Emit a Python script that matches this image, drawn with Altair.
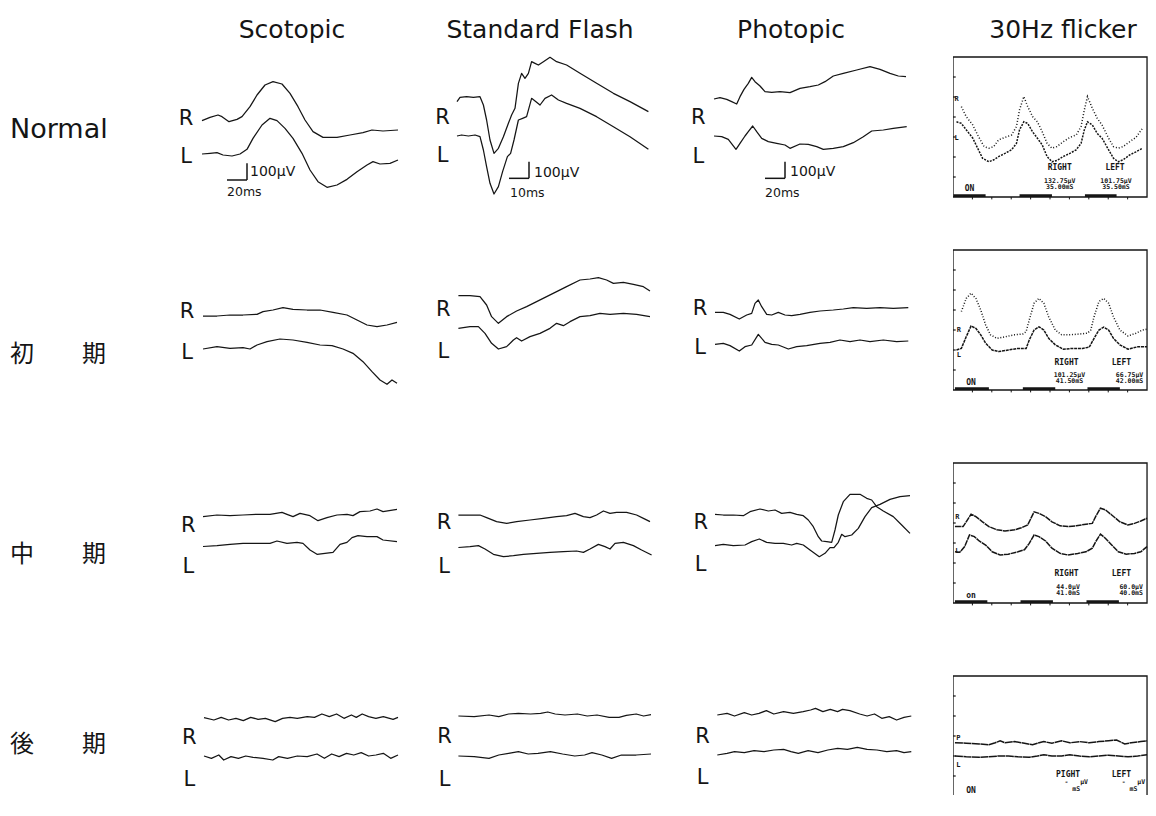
import altair as alt
import pandas as pd

# ---------------- texts ----------------
COL_NAMES = ["Scotopic", "Standard Flash", "Photopic", "30Hz flicker"]
ROW_NAMES = ["Normal", "初　　期", "中　　期", "後　　期"]

# ---------------- ERG sweeps: time (ms) and amplitude (µV, relative to sweep start) ----------------
# Normal
N_SCO_R_T = [0, 8, 16, 20, 27, 35, 40, 48, 55, 63, 71, 80, 88, 96, 103, 111, 121, 135, 148, 161, 170, 181, 196]
N_SCO_R_V = [0, 20, 34, 24, -6, 8, 24, 84, 154, 214, 234, 220, 164, 84, 4, -66, -100, -100, -86, -72, -56, -62, -56]
N_SCO_L_T = [0, 8, 15, 21, 30, 38, 45, 51, 60, 68, 75, 83, 91, 100, 108, 116, 125, 135, 145, 155, 165, 171, 178, 188, 196]
N_SCO_L_V = [0, 4, 8, -6, -12, 0, 28, 94, 174, 214, 200, 154, 94, 4, -96, -166, -200, -186, -152, -106, -66, -46, -60, -56, -36]
N_STD_R_T = [0, 1.5, 4.8, 8.2, 11.5, 13.2, 14.8, 16.5, 18.5, 20.7, 23.2, 25.7, 27.3, 29, 30.7, 32.3, 34, 35.7, 37.3, 39, 40.7, 43.2, 46.5, 49.8, 54.8, 61.5, 69.8, 78.2, 86.5, 95.7]
N_STD_R_V = [-28, -2, 2, -2, 2, -48, -138, -258, -338, -308, -238, -158, -108, -68, 82, 142, 112, 142, 212, 202, 192, 212, 238, 212, 192, 142, 82, 22, -28, -88]
N_STD_L_T = [0, 2.3, 5.7, 9, 11.5, 13.2, 14.8, 16.5, 18.5, 20.7, 22.8, 25.2, 26.8, 28.5, 30.7, 32.8, 34.8, 37.3, 39.5, 41.5, 44, 47.3, 50.7, 54.8, 61.5, 69.8, 78.2, 86.5, 95.7]
N_STD_L_V = [-3, 3, -3, 3, -7, -87, -187, -287, -351, -307, -217, -127, -107, -27, 93, 103, 113, 223, 203, 183, 223, 243, 213, 193, 163, 113, 53, -7, -83]
N_PHO_R_T = [0, 6, 12.7, 17.7, 22.7, 26, 30, 34.3, 37.7, 41, 46, 51, 57.7, 66, 76, 86, 96, 104.3, 111, 119.3, 129.3, 142.7, 156, 166, 176, 184.3, 192]
N_PHO_R_V = [0, 8, -2, -16, -30, 14, 58, 94, 130, 104, 78, 44, 40, 44, 38, 64, 74, 84, 104, 138, 154, 174, 194, 178, 154, 138, 134]
N_PHO_L_T = [0, 7.7, 14.3, 22, 26, 31, 34.3, 38.7, 42.7, 47.7, 54.3, 62.7, 71, 76, 86, 94.3, 102.7, 109.3, 119.3, 129.3, 139.3, 149.3, 157.7, 169.3, 179.3, 192.7]
N_PHO_L_V = [0, -4, -20, -80, -44, 0, 26, 60, 26, -14, -34, -44, -54, -74, -48, -50, -64, -80, -74, -64, -40, -4, 30, 36, 46, 56]

# 初期 (early)
E_SCO_R_T = [1, 15, 28, 41, 55, 61, 71, 81, 91, 105, 118, 131, 145, 155, 165, 175, 185, 195]
E_SCO_R_V = [0, 0, 6, 6, 10, 26, 36, 50, 40, 36, 36, 22, 6, -24, -54, -64, -54, -38]
E_SCO_L_T = [1, 15, 28, 41, 48, 55, 65, 78, 91, 105, 118, 130, 141, 151, 161, 170, 178, 185, 190, 195]
E_SCO_L_V = [0, 14, 4, 8, 0, 24, 44, 60, 54, 40, 24, 20, 0, -26, -76, -136, -186, -212, -186, -206]
E_STD_R_T = [0.7, 6.5, 11.5, 14.8, 17.3, 20.7, 24.8, 29.8, 34.8, 39.8, 44.8, 49.8, 54.8, 61.5, 66.5, 70.7, 74.8, 78.2, 83.2, 88.2, 93.2, 96.5]
E_STD_R_V = [0, 0, -6, -56, -126, -166, -126, -92, -66, -36, -6, 24, 54, 94, 100, 108, 94, 74, 80, 68, 54, 28]
E_STD_L_T = [0.7, 6.5, 10.7, 14, 17.3, 20.7, 24.8, 28.2, 29.8, 32.3, 36.5, 41.5, 46.5, 49.8, 53.2, 56.5, 61.5, 66.5, 71.5, 76.5, 83.2, 89.8, 96.5]
E_STD_L_V = [-5, 5, 5, -35, -95, -129, -115, -75, -61, -81, -55, -35, -5, 25, 11, 35, 65, 71, 85, 79, 85, 79, 65]
E_PHO_R_T = [1, 9.3, 16, 25.3, 32.7, 37.7, 41, 44.3, 47.7, 52.7, 57.7, 64.3, 71, 77.7, 86, 96, 106, 119.3, 129.3, 139.3, 152.7, 166, 179.3, 194.3]
E_PHO_R_V = [0, 0, -12, -40, -16, -6, 54, 74, 34, -12, -16, 0, -16, -20, -12, 0, 8, 14, 20, 28, 24, 28, 24, 28]
E_PHO_L_T = [1, 9.3, 16, 25.3, 31, 37.7, 44.3, 51, 57.7, 64.3, 74.3, 82.7, 92.7, 106, 116, 126, 136, 146, 156, 169.3, 182.7, 194.3]
E_PHO_L_V = [0, 6, -8, -40, -14, -4, 60, 12, 0, -4, -28, -14, -8, 6, 12, 26, 16, 26, 16, 26, 16, 20]

# 中期 (middle)
M_SCO_R_T = [1, 15, 28, 41, 55, 68, 80, 85, 91, 98, 108, 116, 125, 135, 145, 151, 158, 168, 175, 181, 195]
M_SCO_R_V = [-4, 6, 2, 6, 10, 10, 22, 10, -4, 16, 2, -28, -10, 6, 10, 2, 26, 30, 42, 26, 40]
M_SCO_L_T = [1, 15, 28, 41, 55, 68, 75, 85, 95, 101, 108, 115, 123, 131, 138, 145, 150, 156, 165, 175, 181, 195]
M_SCO_L_V = [0, 5, 13, 19, 19, 19, 33, 19, 25, 19, -21, -47, -41, -35, 13, 25, 53, 65, 59, 59, 39, 29]
M_STD_R_T = [0.7, 6.5, 11.5, 14.8, 19.8, 24.8, 29.8, 36.5, 43.2, 49.8, 54.8, 59, 63.2, 66.5, 69.8, 73.2, 76.5, 79.8, 84.8, 89.8, 93.2, 96.5]
M_STD_R_V = [0, 0, 0, -16, -40, -50, -40, -30, -20, -10, -4, 10, -10, -16, 0, 24, 10, 16, 16, 0, -20, -40]
M_STD_L_T = [0.7, 6.5, 10.7, 14, 18.2, 23.2, 28.2, 33.2, 39.8, 46.5, 53.2, 59.8, 63.2, 66.5, 70.7, 74, 76.5, 79, 83.2, 88.2, 92.3, 97.3]
M_STD_L_V = [0, 5, 11, -9, -41, -55, -49, -41, -35, -29, -25, -21, -29, -9, 19, 5, -9, 25, 31, 11, -15, -45]
M_PHO_R_T = [1, 9.3, 19.3, 29.3, 36, 46, 54.3, 61, 67.7, 76, 82.7, 89.3, 94.3, 99.3, 104.3, 107.7, 112.7, 117.7, 121, 124.3, 129.3, 136, 146, 152.7, 157.7, 162.7, 169.3, 179.3, 187.7, 196]
M_PHO_R_V = [1, -3, -3, -7, 17, 33, 21, 27, 7, 13, 1, -7, -33, -73, -133, -159, -163, -167, -93, -3, 77, 121, 121, 97, 87, 47, 21, -13, -63, -113]
M_PHO_L_T = [1, 9.3, 19.3, 31, 37.7, 45.3, 52.7, 61, 69.3, 77.7, 82.7, 89.3, 96, 105.3, 111, 116, 120, 124.3, 127.7, 131, 137.7, 144.3, 151, 157.7, 166, 176, 186, 196]
M_PHO_L_V = [-4, 4, -4, 0, 20, 36, 16, 10, 10, 0, 10, 0, -30, -70, -50, -16, -16, 16, 64, 50, 60, 100, 170, 224, 244, 274, 290, 296]

# 後期 (late)
L_SCO_R_T = [2, 11.9, 19.2, 26.6, 34, 41.3, 48.7, 56.1, 63.4, 73.2, 80.6, 88, 95.3, 105.2, 112.5, 119.9, 127.3, 134.6, 142, 149.4, 154.3, 160.2, 166.6, 173.9, 181.3, 191.1, 196]
L_SCO_R_V = [2, -12, 4, -12, -2, -16, 4, -8, -2, -22, -2, 4, -2, 8, 4, 24, 8, 24, -2, 18, 4, 24, 8, -2, 8, -8, 4]
L_SCO_L_T = [2, 9.4, 16.8, 21.7, 29, 36.4, 43.8, 51.1, 61, 70.8, 76.7, 85.5, 95.3, 105.2, 115, 122.4, 129.7, 137.1, 144.5, 151.8, 159.2, 166.6, 173.9, 181.3, 188.7, 196]
L_SCO_L_V = [4, -10, 10, -20, 0, -10, 4, -4, -10, -20, 0, -10, 4, 0, 16, -10, 16, 0, 20, 10, 24, 4, 10, 20, -10, 10]
L_STD_R_T = [0.7, 8.6, 16, 20.9, 25.8, 30.7, 36.8, 41.8, 45.4, 49.1, 54, 60.2, 65.1, 70, 76.1, 81, 84.7, 89.6, 93.3, 97]
L_STD_R_V = [0, -4, 6, -4, 12, 16, 12, 16, 24, 12, 6, 12, 0, 6, -8, -8, 4, 12, 0, 8]
L_STD_L_T = [0.7, 8.6, 16, 20.9, 25.8, 30.7, 35.6, 40.5, 46.7, 52.8, 58.9, 63.8, 67.5, 72.4, 77.3, 82.2, 89.6, 97]
L_STD_L_V = [0, -4, -14, 6, 16, 26, 12, 16, 26, 12, 0, 6, 20, 6, -14, 6, 6, 12]
L_PHO_R_T = [3.3, 13.1, 20.5, 30.3, 37.7, 45, 52.4, 59.8, 69.6, 79.4, 89.2, 96.6, 101.5, 108.9, 116.3, 123.6, 128.5, 135.9, 145.7, 153.1, 160.5, 167.8, 175.2, 182.6, 190, 197.3]
L_PHO_R_V = [0, 10, -6, 14, 0, 10, 26, 6, 20, 10, 20, 30, 40, 20, 34, 20, 34, 26, 6, -6, 6, -20, -10, -30, -14, -6]
L_PHO_L_T = [3.3, 13.1, 20.5, 30.3, 40.1, 50, 59.8, 69.6, 77, 84.3, 94.1, 104, 113.8, 123.6, 133.4, 143.3, 153.1, 162.9, 172.8, 182.6, 190, 197.3]
L_PHO_L_V = [-6, 4, 14, 8, 20, 14, 24, 28, 14, 4, 20, 8, 24, 34, 28, 40, 28, 24, 14, 20, 8, 14]

# ---------------- 30Hz flicker sweeps: time (ms) and amplitude (µV within the 0-350 µV frame) ----------------
F1_R_T = [4.3, 6.8, 10.2, 12.7, 16, 18.5, 21, 23.5, 26.8, 30.2, 32.7, 34.3, 36.5, 38.5, 41, 43.5, 46, 48.5, 51, 53.5, 56.8, 60.2, 63.5, 66, 67.7, 69.3, 71.8, 74.3, 76.8, 80.2, 82.7, 85.2, 87.7, 91, 94.3, 97.7]
F1_R_V = [226, 201, 180, 155, 126, 122, 126, 143, 149, 155, 176, 218, 251, 226, 201, 188, 163, 134, 122, 126, 138, 149, 155, 176, 218, 251, 222, 197, 180, 147, 126, 122, 126, 138, 149, 172]
F1_L_T = [1.8, 4.3, 6.8, 10.2, 12.7, 15.2, 18.5, 21, 23.5, 26.8, 30.2, 32.7, 34.3, 36.5, 38.5, 41, 43.5, 46, 48.5, 51, 53.5, 56.8, 60.2, 63.5, 66, 67.7, 69.3, 71.8, 74.3, 76.8, 80.2, 82.7, 85.2, 87.7, 91, 94.3, 97.7]
F1_L_V = [188, 184, 168, 147, 122, 97, 88, 93, 101, 109, 118, 134, 168, 188, 184, 163, 147, 130, 101, 88, 91, 101, 109, 118, 134, 168, 188, 180, 159, 147, 118, 97, 88, 93, 105, 113, 122]
F2_R_T = [4.3, 6.8, 9.3, 11.8, 14.3, 16.8, 19.3, 22.7, 26.8, 31.8, 36, 37.7, 39.3, 41.8, 44.3, 46.8, 49.3, 52.7, 56, 60.2, 65.2, 69.3, 71, 72.7, 75.2, 77.7, 80.2, 82.7, 86, 90.2, 94.3, 97.7, 100]
F2_R_V = [196, 229, 242, 229, 200, 163, 138, 129, 133, 138, 140, 146, 175, 217, 229, 217, 183, 150, 138, 138, 140, 142, 150, 183, 221, 229, 217, 183, 150, 135, 142, 150, 152]
F2_L_T = [1.8, 4.3, 6.8, 9.3, 11.8, 14.3, 16.8, 20.2, 23.5, 28.5, 33.5, 37.7, 39.3, 41.8, 44.3, 46.8, 49.3, 52.7, 56.8, 61.8, 66.8, 70.2, 72.7, 75.2, 77.7, 80.2, 82.7, 86, 90.2, 95.2, 100]
F2_L_V = [100, 104, 133, 160, 154, 138, 117, 100, 96, 100, 104, 104, 125, 150, 158, 150, 129, 113, 102, 104, 104, 107, 129, 150, 157, 150, 129, 113, 102, 108, 108]
F3_R_T = [1, 5.2, 6.8, 9.3, 11.8, 15.2, 18.5, 22.7, 26.8, 31.8, 35.2, 38.5, 40.2, 41.8, 44.3, 47.7, 51, 55.2, 59.3, 63.5, 68.5, 71.8, 73.5, 76, 78.5, 81.8, 86, 90.2, 93.5, 96.8, 100]
F3_R_V = [191, 191, 203, 222, 216, 203, 191, 183, 180, 183, 188, 195, 212, 228, 224, 216, 203, 193, 191, 193, 197, 199, 216, 237, 233, 220, 203, 195, 199, 205, 212]
F3_L_T = [1, 3.5, 6, 8.5, 11, 13.5, 16.8, 20.2, 24.3, 28.5, 33.5, 36.8, 39.3, 41.8, 44.3, 47.7, 51, 55.2, 59.3, 64.3, 68.5, 71.8, 73.5, 76, 78.5, 81.8, 85.2, 89.3, 93.5, 96.8, 100]
F3_L_V = [128, 127, 141, 170, 166, 155, 145, 128, 120, 122, 128, 133, 149, 170, 166, 155, 137, 124, 120, 124, 128, 137, 153, 172, 162, 145, 128, 122, 124, 128, 141]
F4_R_T = [1, 6.8, 13.5, 18.5, 21.8, 24.3, 26.8, 31.8, 36.8, 41, 43.5, 46.8, 51, 56, 60.2, 65.2, 70.2, 75.2, 80.2, 84.3, 88.5, 91.8, 96.8, 100]
F4_R_V = [183, 182, 180, 178, 183, 188, 183, 186, 182, 178, 182, 186, 182, 188, 183, 186, 183, 186, 188, 190, 180, 183, 186, 188]
F4_L_T = [1, 6.8, 13.5, 18.5, 23.5, 28.5, 33.5, 39.3, 43.5, 46.8, 51, 56, 60.2, 65.2, 70.2, 75.2, 80.2, 85.2, 90.2, 95.2, 100]
F4_L_V = [150, 148, 147, 148, 150, 150, 148, 147, 150, 153, 150, 150, 153, 150, 148, 150, 152, 150, 148, 150, 153]

# stimulus "ON" periods (ms) shown under each flicker record
F_STIM = [
    [(0.2, 16.8), (34.3, 51), (68, 84.3)],
    [(1, 18.5), (36, 52.7), (69.3, 86)],
    [(1, 17.7), (34.8, 51.5), (68.8, 85.5)],
    [(1, 18), (35, 52), (69, 86)],
]
# instrument read-outs printed inside each flicker record: (text, kind, t, v)
NB = "\u00a0"
F_TEXT = [
    [("R", "eye", 1.8, 244), ("L", "eye", 1.8, 147), ("RIGHT", "head", 55, 72), ("LEFT", "head", 83.5, 72),
     ("132.75µV", "num", 55, 41), ("35.00mS", "num", 55, 25), ("101.75µV", "num", 84, 41), ("35.50mS", "num", 84, 25),
     ("ON", "on", 8.5, 19)],
    [("R", "eye", 3, 150), ("L", "eye", 3, 88), ("RIGHT", "head", 58.5, 68), ("LEFT", "head", 86.8, 68),
     ("101.25µV", "num", 60, 38), ("41.50mS", "num", 60, 22), ("66.75µV", "num", 91, 38), ("42.00mS", "num", 91, 22),
     ("ON", "on", 9.3, 17)],
    [("R", "eye", 2.2, 216), ("L", "eye", 2.2, 130), ("RIGHT", "head", 58.5, 72), ("LEFT", "head", 86.8, 72),
     ("44.0µV", "num", 59.3, 40), ("41.0mS", "num", 59.3, 24), ("60.0µV", "num", 91.8, 40), ("40.0mS", "num", 91.8, 24),
     ("on", "on", 9.3, 18)],
    [("P", "eye", 2.7, 194), ("L", "eye", 2.7, 128), ("PIGHT", "head", 59.3, 102), ("LEFT", "head", 86.8, 102),
     ("-" + NB * 3 + "µV", "num", 63.5, 85), (NB * 4 + "mS", "num", 63.5, 67),
     ("-" + NB * 3 + "µV", "num", 93, 85), (NB * 4 + "mS", "num", 93, 67), ("ON", "on", 9.3, 62)],
]
F_YTICKS = [50, 100, 150, 200, 250, 300]
F_XTICKS = [10, 20, 30, 40, 50, 60, 70, 80, 90]
F_FRAME = {"t0": 0, "t1": 100, "v0": 0, "v1": 350}

TRACES = {
    (0, 0): {"R": (N_SCO_R_T, N_SCO_R_V), "L": (N_SCO_L_T, N_SCO_L_V)},
    (0, 1): {"R": (N_STD_R_T, N_STD_R_V), "L": (N_STD_L_T, N_STD_L_V)},
    (0, 2): {"R": (N_PHO_R_T, N_PHO_R_V), "L": (N_PHO_L_T, N_PHO_L_V)},
    (1, 0): {"R": (E_SCO_R_T, E_SCO_R_V), "L": (E_SCO_L_T, E_SCO_L_V)},
    (1, 1): {"R": (E_STD_R_T, E_STD_R_V), "L": (E_STD_L_T, E_STD_L_V)},
    (1, 2): {"R": (E_PHO_R_T, E_PHO_R_V), "L": (E_PHO_L_T, E_PHO_L_V)},
    (2, 0): {"R": (M_SCO_R_T, M_SCO_R_V), "L": (M_SCO_L_T, M_SCO_L_V)},
    (2, 1): {"R": (M_STD_R_T, M_STD_R_V), "L": (M_STD_L_T, M_STD_L_V)},
    (2, 2): {"R": (M_PHO_R_T, M_PHO_R_V), "L": (M_PHO_L_T, M_PHO_L_V)},
    (3, 0): {"R": (L_SCO_R_T, L_SCO_R_V), "L": (L_SCO_L_T, L_SCO_L_V)},
    (3, 1): {"R": (L_STD_R_T, L_STD_R_V), "L": (L_STD_L_T, L_STD_L_V)},
    (3, 2): {"R": (L_PHO_R_T, L_PHO_R_V), "L": (L_PHO_L_T, L_PHO_L_V)},
}
FLICKER = [
    {"R": (F1_R_T, F1_R_V), "L": (F1_L_T, F1_L_V)},
    {"R": (F2_R_T, F2_R_V), "L": (F2_L_T, F2_L_V)},
    {"R": (F3_R_T, F3_R_V), "L": (F3_L_T, F3_L_V)},
    {"R": (F4_R_T, F4_R_V), "L": (F4_L_T, F4_L_V)},
]

# ---------------- layout ----------------
INK = "#151515"
FONT = "DejaVu Sans"
JFONT = "Noto Sans CJK JP"
MONO = "DejaVu Sans Mono"
HEADER_H = 42
ROW_H = [190, 212, 213, 130]
COL_W = [162, 255, 255, 273, 195]
UV_PER_PX = 6            # trace panels
F_UV_PER_PX = 2.5        # flicker panels
X_DOMAIN = [[-32, 223], [-16, 111.5], [-34, 239]]
F_X_DOMAIN = [0, 100.5]
F_Y_LOW = [-107.5, -155, -155, 52.5]
HEADER_X = [122, 115, 111, 110]
ROW_LABEL_Y = [80, 115, 103, 80]
# vertical display offsets (µV) that stack R above L in each panel
OFFSETS = {
    (0, 0): {"R": 716, "L": 516}, (0, 1): {"R": 858, "L": 627}, (0, 2): {"R": 846, "L": 624},
    (1, 0): {"R": 816, "L": 618}, (1, 1): {"R": 938, "L": 747}, (1, 2): {"R": 838, "L": 646},
    (2, 0): {"R": 894, "L": 711}, (2, 1): {"R": 900, "L": 705}, (2, 2): {"R": 903, "L": 720},
    (3, 0): {"R": 462, "L": 230}, (3, 1): {"R": 474, "L": 234}, (3, 2): {"R": 480, "L": 246},
}
EYE_POS = {
    (0, 0): {"R": (-16, 726), "L": (-16, 498)}, (0, 1): {"R": (-7.2, 730), "L": (-7.2, 504)},
    (0, 2): {"R": (-15.7, 730), "L": (-15.7, 500)},
    (1, 0): {"R": (-15, 842), "L": (-15, 592)}, (1, 1): {"R": (-6.8, 852), "L": (-6.8, 602)},
    (1, 2): {"R": (-14, 858), "L": (-14, 622)},
    (2, 0): {"R": (-13.7, 836), "L": (-13.7, 590)}, (2, 1): {"R": (-6.5, 850), "L": (-6.5, 590)},
    (2, 2): {"R": (-13.3, 850), "L": (-13.3, 600)},
    (3, 0): {"R": (-12.7, 340), "L": (-12.7, 90)}, (3, 1): {"R": (-6.2, 350), "L": (-6.2, 90)},
    (3, 2): {"R": (-11.4, 350), "L": (-11.4, 100)},
}
# calibration bars in the Normal row: 100 µV and 20/10/20 ms
CAL_UV = 100
CAL_MS = [20, 10, 20]
CAL_CORNER = [(45, 360), (36, 370), (71, 370)]
CAL_UV_TEXT = [(48, 408), (38.5, 405), (76, 410)]
CAL_MS_TEXT = [(25, 288), (26.5, 280), (51, 280)]
F_DASH = [([1, 2], [2, 1.2]), ([1, 1.8], [3, 0.8]), ([6, 0.6], [6, 0.6]), ([8, 0.5], [8, 0.5])]


def sweep_df(series, offsets=None):
    rows = []
    for eye, (T, V) in series.items():
        off = offsets[eye] if offsets else 0
        for i, (t, v) in enumerate(zip(T, V)):
            rows.append({"eye": eye, "i": i, "t": t, "v": v + off})
    return pd.DataFrame(rows)


def trace_cell(r, c):
    H = ROW_H[r]
    xs = alt.Scale(domain=X_DOMAIN[c], nice=False, zero=False)
    ys = alt.Scale(domain=[0, UV_PER_PX * H], nice=False, zero=False)

    def X(f):
        return alt.X(f, scale=xs, axis=None)

    def Y(f):
        return alt.Y(f, scale=ys, axis=None)

    df = sweep_df(TRACES[(r, c)], OFFSETS[(r, c)])
    lines = alt.Chart(df).mark_line(color=INK, strokeWidth=1.25, strokeJoin="round").encode(
        x=X("t:Q"), y=Y("v:Q"), detail="eye:N", order="i:Q")
    lab = pd.DataFrame([{"eye": e, "t": p[0], "v": p[1]} for e, p in EYE_POS[(r, c)].items()])
    labels = alt.Chart(lab).mark_text(font=FONT, fontSize=21, color=INK, align="center",
                                      baseline="middle").encode(x=X("t:Q"), y=Y("v:Q"), text="eye:N")
    layers = [lines, labels]
    if r == 0:
        tc, vc = CAL_CORNER[c]
        cal = pd.DataFrame([{"t0": tc - CAL_MS[c], "t1": tc, "v0": vc, "v1": vc + CAL_UV}])
        hbar = alt.Chart(cal).mark_rule(color=INK, strokeWidth=1.5).encode(x=X("t0:Q"), x2="t1:Q", y=Y("v0:Q"))
        vbar = alt.Chart(cal).mark_rule(color=INK, strokeWidth=1.5).encode(x=X("t1:Q"), y=Y("v0:Q"), y2="v1:Q")
        ct = pd.DataFrame([
            {"t": CAL_UV_TEXT[c][0], "v": CAL_UV_TEXT[c][1], "s": f"{CAL_UV}µV", "k": "uv"},
            {"t": CAL_MS_TEXT[c][0], "v": CAL_MS_TEXT[c][1], "s": f"{CAL_MS[c]}ms", "k": "ms"},
        ])
        uvt = alt.Chart(ct[ct.k == "uv"]).mark_text(font=FONT, fontSize=14, color=INK, align="left",
                                                    baseline="middle").encode(x=X("t:Q"), y=Y("v:Q"), text="s:N")
        mst = alt.Chart(ct[ct.k == "ms"]).mark_text(font=FONT, fontSize=12.5, color=INK, align="left",
                                                    baseline="middle").encode(x=X("t:Q"), y=Y("v:Q"), text="s:N")
        layers += [hbar, vbar, uvt, mst]
    return alt.layer(*layers).properties(width=COL_W[c + 1], height=H)


def flicker_cell(r):
    H = ROW_H[r]
    lo = F_Y_LOW[r]
    xs = alt.Scale(domain=F_X_DOMAIN, nice=False, zero=False)
    ys = alt.Scale(domain=[lo, lo + F_UV_PER_PX * H], nice=False, zero=False)

    def X(f):
        return alt.X(f, scale=xs, axis=None)

    def Y(f):
        return alt.Y(f, scale=ys, axis=None)

    frame = alt.Chart(pd.DataFrame([F_FRAME])).mark_rect(
        fillOpacity=0, stroke=INK, strokeWidth=1.3, clip=True).encode(
        x=X("t0:Q"), x2="t1:Q", y=Y("v0:Q"), y2="v1:Q")
    yt = pd.DataFrame({"v": F_YTICKS, "t0": 0, "t1": 1.4})
    yticks = alt.Chart(yt).mark_rule(color=INK, strokeWidth=1.2, clip=True).encode(
        x=X("t0:Q"), x2="t1:Q", y=Y("v:Q"))
    xt = pd.DataFrame({"t": F_XTICKS, "v0": -6, "v1": 0})
    xticks = alt.Chart(xt).mark_rule(color=INK, strokeWidth=1, clip=True).encode(
        x=X("t:Q"), y=Y("v0:Q"), y2="v1:Q")
    st = pd.DataFrame([{"t0": a, "t1": b, "v0": 0, "v1": 7} for a, b in F_STIM[r]])
    stim = alt.Chart(st).mark_rect(color=INK, clip=True).encode(x=X("t0:Q"), x2="t1:Q", y=Y("v0:Q"), y2="v1:Q")
    layers = [frame, yticks, xticks, stim]
    df = sweep_df(FLICKER[r])
    for k, eye in enumerate(["R", "L"]):
        layers.append(alt.Chart(df[df.eye == eye]).mark_line(
            color=INK, strokeWidth=1.5, strokeDash=F_DASH[r][k], clip=True).encode(
            x=X("t:Q"), y=Y("v:Q"), order="i:Q"))
    tx = pd.DataFrame([{"s": s, "k": k, "t": t, "v": v} for s, k, t, v in F_TEXT[r]])
    styles = {"eye": dict(fontSize=7, fontWeight="bold"), "head": dict(fontSize=8, fontWeight="bold"),
              "num": dict(fontSize=6.5, fontWeight="bold"), "on": dict(fontSize=8, fontWeight="bold")}
    for k, sty in styles.items():
        layers.append(alt.Chart(tx[tx.k == k]).mark_text(
            font=MONO, color=INK, align="center", baseline="middle", clip=True, **sty).encode(
            x=X("t:Q"), y=Y("v:Q"), text="s:N"))
    return alt.layer(*layers).properties(width=COL_W[4], height=H)


def text_cell(label, x, y, width, height, font, size, align):
    return alt.Chart(alt.Data(values=[{"s": label}])).mark_text(
        font=font, fontSize=size, color=INK, align=align, baseline="middle").encode(
        text="s:N", x=alt.value(x), y=alt.value(y)).properties(width=width, height=height)


cells = [text_cell("", 20, 20, COL_W[0], HEADER_H, FONT, 10, "left")]
for c, name in enumerate(COL_NAMES):
    cells.append(text_cell(name, HEADER_X[c], 22, COL_W[c + 1], HEADER_H, FONT, 25, "center"))
for r, name in enumerate(ROW_NAMES):
    font = FONT if r == 0 else JFONT
    size = 27 if r == 0 else 24
    cells.append(text_cell(name, 2, ROW_LABEL_Y[r], COL_W[0], ROW_H[r], font, size, "left"))
    for c in range(3):
        cells.append(trace_cell(r, c))
    cells.append(flicker_cell(r))

chart = alt.concat(*cells, columns=5, spacing=0, align="each", bounds="flush").properties(
    padding=0, background="white").configure_view(strokeWidth=0)

chart.save("out.html", embed_options={"renderer": "svg", "actions": False})
